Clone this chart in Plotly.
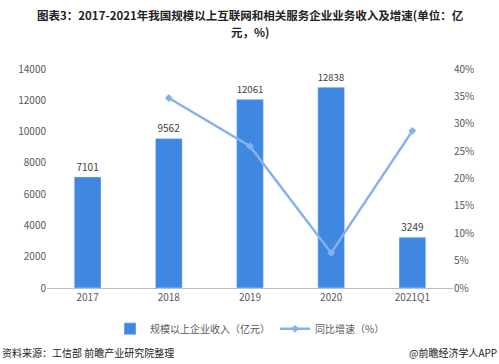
import plotly.graph_objects as go

categories = ["2017", "2018", "2019", "2020", "2021Q1"]
revenue = [7101, 9562, 12061, 12838, 3249]
growth_x = ["2018", "2019", "2020", "2021Q1"]
growth = [34.7, 25.9, 6.4, 28.7]

left_ticks = [0, 2000, 4000, 6000, 8000, 10000, 12000, 14000]
left_labels = [str(v) for v in left_ticks]
right_ticks = [0, 5, 10, 15, 20, 25, 30, 35, 40]
right_labels = [f"{v}%" for v in right_ticks]

title_lines = ["图表3：2017-2021年我国规模以上互联网和相关服务企业业务收入及增速(单位：亿", "元，%)"]

font = "Noto Sans CJK SC"

fig = go.Figure()
fig.add_trace(go.Bar(
    x=categories, y=revenue, name="规模以上企业收入（亿元）",
    marker_color="#3F87E1", width=0.33,
    text=[str(v) for v in revenue], textposition="outside",
    textfont=dict(size=10, color="#404040"), cliponaxis=False,
))
fig.add_trace(go.Scatter(
    x=growth_x, y=growth, name="同比增速（%）", yaxis="y2",
    mode="lines+markers", line=dict(color="#86B2EC", width=2.5),
    marker=dict(symbol="diamond", size=6, color="#86B2EC"),
))

fig.update_layout(
    width=499, height=364,
    margin=dict(l=47, r=46, t=69, b=76),
    paper_bgcolor="white", plot_bgcolor="white",
    font=dict(family=font, size=10, color="#595959"),
    showlegend=True,
    legend=dict(orientation="h", x=0.5, xanchor="center", y=-0.12, yanchor="top",
                font=dict(size=10, color="#595959")),
    xaxis=dict(showline=True, linecolor="#BFBFBF", linewidth=1, ticks="",
               tickfont=dict(size=10, color="#595959")),
    yaxis=dict(range=[0, 14000], tickvals=left_ticks, ticktext=left_labels, showgrid=False,
               zeroline=False, showline=False, tickfont=dict(size=10, color="#595959")),
    yaxis2=dict(range=[0, 40], tickvals=right_ticks, ticktext=right_labels,
                overlaying="y", side="right", showgrid=False, zeroline=False,
                showline=False, tickfont=dict(size=10, color="#595959")),
)

for line, ypos in zip(title_lines, [1.29, 1.215]):
    fig.add_annotation(
        text=f"<b>{line}</b>",
        xref="paper", yref="paper", x=0.5, xanchor="center", y=ypos, yanchor="top",
        showarrow=False,
        font=dict(family=font, size=11.5, color="#222222"),
    )
fig.add_annotation(text="资料来源：工信部 前瞻产业研究院整理", xref="paper", yref="paper",
                   x=-0.115, xanchor="left", y=-0.25, yanchor="top", showarrow=False,
                   font=dict(size=10, color="#222222"))
fig.add_annotation(text="@前瞻经济学人APP", xref="paper", yref="paper",
                   x=1.113, xanchor="right", y=-0.25, yanchor="top", showarrow=False,
                   font=dict(size=10, color="#222222"))

fig.write_html("out.html", config={"displayModeBar": False},
               post_script="document.body.style.margin='0';")
